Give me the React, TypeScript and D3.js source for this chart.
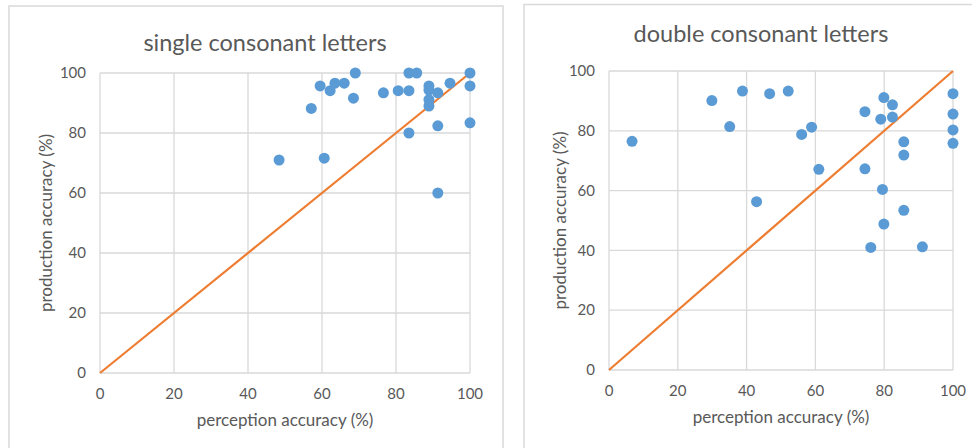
import * as d3 from "d3";

// single consonant letters: perception %, production %
const singlePerception = [48.4, 57.1, 59.5, 60.6, 62.2, 63.5, 66, 68.5, 69, 76.6, 80.6, 83.5, 83.5, 85.6, 83.5, 88.9, 88.9, 88.9, 88.9, 91.3, 94.6, 100, 100, 100, 91.3, 91.3];
const singleProduction = [71, 88.2, 95.7, 71.6, 94.1, 96.6, 96.6, 91.6, 100, 93.4, 94.1, 94.1, 100, 100, 80, 95.7, 94.3, 91.1, 89, 93.4, 96.6, 100, 95.7, 83.4, 82.4, 60];

// double consonant letters
const doublePerception = [6.7, 29.9, 35.1, 38.8, 46.7, 52.1, 56, 58.9, 61, 42.9, 74.4, 74.4, 79, 79.9, 82.4, 82.4, 79.5, 79.9, 85.7, 85.7, 85.7, 100, 100, 100, 100, 76.1, 91.1];
const doubleProduction = [76.5, 90.1, 81.4, 93.3, 92.4, 93.3, 78.8, 81.2, 67.1, 56.3, 86.4, 67.3, 83.9, 91.1, 88.7, 84.6, 60.4, 48.8, 76.3, 71.9, 53.4, 92.4, 85.6, 80.3, 75.8, 41, 41.2];

const ticks = [0, 20, 40, 60, 80, 100];
const titles = ["single consonant letters", "double consonant letters"];
const xTitle = "perception accuracy (%)";
const yTitle = "production accuracy (%)";

const FONT = "Lato, 'Open Sans', sans-serif";
const TEXT = "#595959";
const GRID = "#D9D9D9";

type PanelProps = {
  box: [number, number, number, number];
  plot: [number, number, number, number]; // left, top, right, bottom
  title: string;
  titleY: number;
  yTitleX: number;
  xs: number[];
  ys: number[];
};

const Panel = ({ box, plot, title, titleY, yTitleX, xs, ys }: PanelProps) => {
  const [l, t, r, b] = plot;
  const x = d3.scaleLinear().domain([0, 100]).range([l, r]);
  const y = d3.scaleLinear().domain([0, 100]).range([b, t]);
  const cx = (l + r) / 2;
  const cy = (t + b) / 2;
  return (
    <g>
      <rect x={box[0]} y={box[1]} width={box[2]} height={box[3]} fill="#fff" stroke={GRID} strokeWidth={1.5} />
      <text x={cx - 20} y={titleY} textAnchor="middle" fontSize={23.5} fill={TEXT} fontFamily={FONT}>
        {title}
      </text>
      {ticks.map((v) => (
        <line key={"h" + v} x1={l} x2={r} y1={y(v)} y2={y(v)} stroke={GRID} strokeWidth={1.3} />
      ))}
      {ticks.map((v) => (
        <line key={"v" + v} x1={x(v)} x2={x(v)} y1={t} y2={b} stroke={GRID} strokeWidth={1.3} />
      ))}
      {ticks.map((v) => (
        <text key={"yt" + v} x={l - 14} y={y(v)} dy="0.35em" textAnchor="end" fontSize={15} fill={TEXT} fontFamily={FONT}>
          {v}
        </text>
      ))}
      {ticks.map((v) => (
        <text key={"xt" + v} x={x(v)} y={b + 26} textAnchor="middle" fontSize={15} fill={TEXT} fontFamily={FONT}>
          {v}
        </text>
      ))}
      <text x={cx} y={b + 53} textAnchor="middle" fontSize={17} fill={TEXT} fontFamily={FONT}>
        {xTitle}
      </text>
      <text
        transform={`translate(${yTitleX},${cy}) rotate(-90)`}
        textAnchor="middle"
        fontSize={17}
        fill={TEXT}
        fontFamily={FONT}
      >
        {yTitle}
      </text>
      <line x1={x(0)} y1={y(0)} x2={x(100)} y2={y(100)} stroke="#ED7D31" strokeWidth={2.2} />
      {xs.map((v, i) => (
        <circle key={i} cx={x(v)} cy={y(ys[i])} r={5.5} fill="#5B9BD5" />
      ))}
    </g>
  );
};

export default function App() {
  return (
    <svg
      width={972}
      height={448}
      style={{ position: "absolute", left: 0, top: 0, background: "#fff" }}
    >
      <Panel
        box={[9, 6, 494, 460]}
        plot={[100, 73, 470, 373]}
        title={titles[0]}
        titleY={51}
        yTitleX={52}
        xs={singlePerception}
        ys={singleProduction}
      />
      <Panel
        box={[524, 4.5, 460, 460]}
        plot={[609, 71, 953, 370]}
        title={titles[1]}
        titleY={42}
        yTitleX={566}
        xs={doublePerception}
        ys={doubleProduction}
      />
    </svg>
  );
}
